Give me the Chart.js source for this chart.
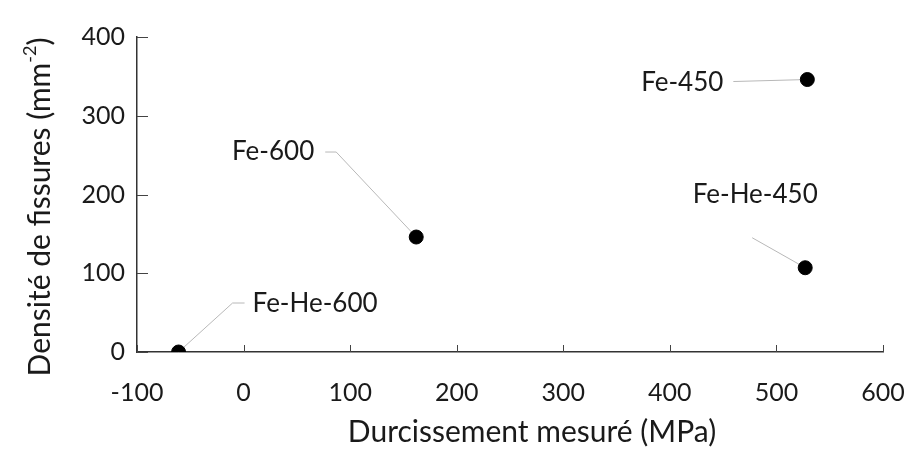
<!DOCTYPE html>
<html>
<head>
<meta charset="utf-8">
<script src="https://cdn.jsdelivr.net/npm/chart.js@4/dist/chart.umd.min.js"></script>
<style>
	html, body { margin: 0; padding: 0; background: #fff; }
	#wrap { width: 911px; height: 455px; position: relative; }
</style>
</head>
<body>
<div id="wrap"><canvas id="myChart"></canvas></div>
<script>
const sampleNames = ["Fe-He-600", "Fe-600", "Fe-450", "Fe-He-450"];
const hardening = [-61, 162, 529, 527];      // MPa
const crackDensity = [0, 146, 346, 107];     // mm-2
const xTicks = [-100, 0, 100, 200, 300, 400, 500, 600];
const yTicks = [0, 100, 200, 300, 400];

const FONT = "Lato, 'Open Sans', sans-serif";
const INK = "#1a1a1a";

// where each label sits relative to its point (pixels), and its leader line
const labelLayout = [
	{ dx: 74, dy: -48, align: "left", line: [[54, -49], [66, -49]] },
	{ dx: -102, dy: -85, align: "right", line: [[-80, -85], [-91, -85]] },
	{ dx: -84, dy: 3, align: "right", line: [[-74, 2]] },
	{ dx: -50, dy: -73, align: "center", line: [[-53, -30]] }
];

const points = hardening.map((x, i) => ({ x: x, y: crackDensity[i] }));

const decorPlugin = {
	id: "decor",
	beforeDatasetsDraw(chart) {
		const ctx = chart.ctx;
		const meta = chart.getDatasetMeta(0);
		ctx.save();
		ctx.strokeStyle = "#b8b8b8";
		ctx.lineWidth = 1;
		meta.data.forEach((pt, i) => {
			const lay = labelLayout[i];
			ctx.beginPath();
			ctx.moveTo(pt.x, pt.y);
			for (const seg of lay.line) {
				ctx.lineTo(pt.x + seg[0], pt.y + seg[1]);
			}
			ctx.stroke();
		});
		ctx.restore();
	},
	afterDraw(chart) {
		const ctx = chart.ctx;
		const area = chart.chartArea;
		const xs = chart.scales.x;
		const ys = chart.scales.y;
		ctx.save();

		// inward tick marks
		ctx.strokeStyle = "#444";
		ctx.lineWidth = 1;
		ctx.beginPath();
		for (const v of xTicks) {
			const px = Math.round(xs.getPixelForValue(v)) + 0.5;
			ctx.moveTo(px, area.bottom);
			ctx.lineTo(px, area.bottom - 7);
		}
		for (const v of yTicks) {
			const py = Math.round(ys.getPixelForValue(v)) + 0.5;
			ctx.moveTo(area.left, py);
			ctx.lineTo(area.left + 11, py);
		}
		ctx.stroke();

		// point labels
		const meta = chart.getDatasetMeta(0);
		ctx.fillStyle = INK;
		ctx.font = "26px " + FONT;
		ctx.textBaseline = "middle";
		meta.data.forEach((pt, i) => {
			const lay = labelLayout[i];
			ctx.textAlign = lay.align;
			ctx.fillText(sampleNames[i], pt.x + lay.dx, pt.y + lay.dy);
		});

		// x title
		ctx.textAlign = "center";
		ctx.font = "30px " + FONT;
		ctx.fillText("Durcissement mesuré (MPa)", 532, 432);

		// y title with superscript
		ctx.translate(40, 207);
		ctx.rotate(-Math.PI / 2);
		const main = "Densité de fissures (mm";
		const sup = "-2";
		const close = ")";
		ctx.font = "30px " + FONT;
		const wMain = ctx.measureText(main).width;
		const wClose = ctx.measureText(close).width;
		ctx.font = "18px " + FONT;
		const wSup = ctx.measureText(sup).width;
		let x0 = -(wMain + wSup + wClose) / 2;
		ctx.textAlign = "left";
		ctx.font = "30px " + FONT;
		ctx.fillText(main, x0, 0);
		ctx.font = "18px " + FONT;
		ctx.fillText(sup, x0 + wMain, -10);
		ctx.font = "30px " + FONT;
		ctx.fillText(close, x0 + wMain + wSup, 0);
		ctx.restore();
	}
};

new Chart("myChart", {
	type: "scatter",
	data: {
		datasets: [{
			data: points,
			backgroundColor: "#000",
			borderColor: "#000",
			pointRadius: 7,
			pointHoverRadius: 7
		}]
	},
	options: {
		responsive: true,
		maintainAspectRatio: false,
		animation: false,
		events: [],
		layout: { padding: { top: 37, right: 28, left: 0, bottom: 0 } },
		plugins: {
			legend: { display: false },
			tooltip: { enabled: false }
		},
		scales: {
			x: {
				type: "linear",
				min: -100,
				max: 600,
				afterBuildTicks: (scale) => { scale.ticks = xTicks.map(v => ({ value: v })); },
				afterFit: (scale) => {
					scale.height = 103;
					scale.paddingLeft = 0;
					scale.paddingRight = 0;
				},
				grid: { display: false, drawTicks: false },
				border: { display: true, color: "#333", width: 1.5 },
				ticks: { color: INK, font: { family: FONT, size: 25 }, padding: 26 }
			},
			y: {
				type: "linear",
				min: 0,
				max: 400,
				afterBuildTicks: (scale) => { scale.ticks = yTicks.map(v => ({ value: v })); },
				afterFit: (scale) => {
					scale.width = 137;
					scale.paddingTop = 0;
					scale.paddingBottom = 0;
				},
				grid: { display: false, drawTicks: false },
				border: { display: true, color: "#333", width: 1.5 },
				ticks: { color: INK, font: { family: FONT, size: 25 }, padding: 12 }
			}
		}
	},
	plugins: [decorPlugin]
});
</script>
</body>
</html>
